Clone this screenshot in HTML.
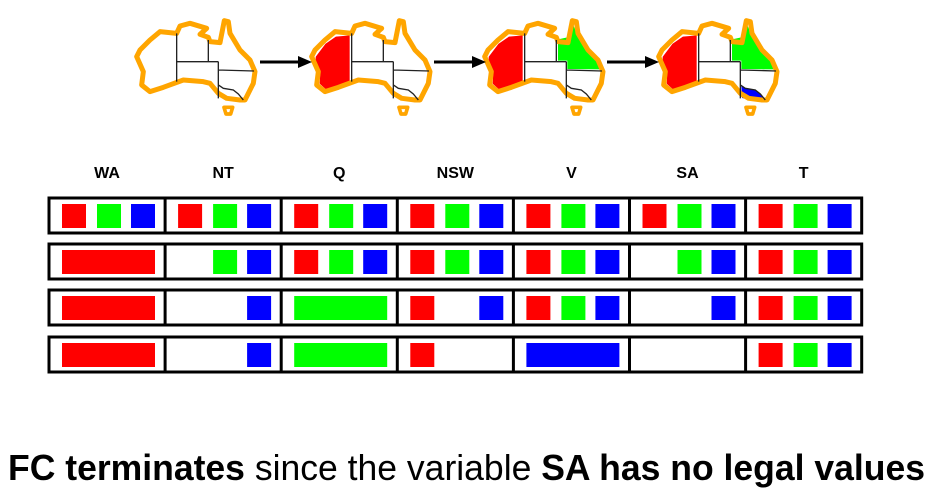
<!DOCTYPE html>
<html><head><meta charset="utf-8"><style>
html,body{margin:0;padding:0;background:#fff;width:936px;height:494px;overflow:hidden}
svg{display:block}
</style></head><body>
<svg id="fig" width="936" height="494" viewBox="0 0 936 494" xmlns="http://www.w3.org/2000/svg">
<defs>
<g id="oz">
<path d="M20,170 L30,150 L60,120 L90,95 L140,100 L150,78 L180,70 L230,85 L210,103 L235,112 L240,125 L270,128 L283,62 L295,65 L300,100 L330,150 L360,180 L375,215 L370,250 L345,300 L330,300 L290,295 L265,280 L240,250 L220,245 L160,240 L100,262 L60,275 L35,255 L40,215 Z" fill="none" stroke="#ffa500" stroke-width="15" stroke-linejoin="round"/>
<path d="M140,100 L140,245 M140,185 L265,185 M235,120 L235,185 M265,185 L265,295 M265,210 L372,213 M265,255 L280,265 L310,270 L325,282 L340,300" fill="none" stroke="#222" stroke-width="4"/>
<path d="M282,322 L308,322 L302,342 L288,342 Z" fill="none" stroke="#ffa500" stroke-width="11" stroke-linejoin="round"/>
</g>
<path id="wa" d="M30,170 L60,130 L92,108 L136,104 L136,244 L100,260 L62,270 L42,252 L44,212 L30,188 Z" fill="#f00" stroke="#fff" stroke-width="4"/>
<path id="q" d="M240,118 L268,112 L284,72 L298,102 L328,152 L358,182 L368,208 L268,207 L268,182 L240,182 Z" fill="#0f0"/>
</defs>
<g transform="translate(130,0) scale(0.3333)"><use href="#oz"/></g>
<g transform="translate(305,0) scale(0.3333)">
<use href="#wa"/><use href="#oz"/></g>
<g transform="translate(478,0) scale(0.3333)">
<use href="#wa"/><use href="#q"/><use href="#oz"/></g>
<g transform="translate(652,0) scale(0.3333)">
<use href="#wa"/><use href="#q"/>
<path d="M268,258 L280,265 L310,270 L325,282 L338,298 L300,300 L270,294 Z" fill="#00f"/>
<use href="#oz"/></g>
<g stroke="#000" stroke-width="3" fill="#000">
<line x1="260" y1="62" x2="300" y2="62"/><polygon points="298,56 312,62 298,68" stroke="none"/>
<line x1="434" y1="62" x2="474" y2="62"/><polygon points="472,56 486,62 472,68" stroke="none"/>
<line x1="607" y1="62" x2="647" y2="62"/><polygon points="645,56 659,62 645,68" stroke="none"/>
</g>
<g id="table"></g>
<text x="8" y="480" textLength="917" lengthAdjust="spacingAndGlyphs" font-family="'Liberation Sans',sans-serif" font-size="36" fill="#000"><tspan font-weight="bold">FC terminates</tspan> since the variable <tspan font-weight="bold">SA has no legal values</tspan></text>
</svg>
<script>
const variables = ["WA","NT","Q","NSW","V","SA","T"];
const row1 = ["RGB","RGB","RGB","RGB","RGB","RGB","RGB"];
const row2 = ["R*","GB","RGB","RGB","RGB","GB","RGB"];
const row3 = ["R*","B","G*","RB","RGB","B","RGB"];
const row4 = ["R*","B","G*","R","B*","","RGB"];
const rows = [row1,row2,row3,row4];
const colors = {R:"#f00",G:"#0f0",B:"#00f"};
const NS="http://www.w3.org/2000/svg";
const g=document.getElementById('table');
const x0=49, cw=116.1, rowY=[198,244,290,337], rh=35;
function mk(t,a){const e=document.createElementNS(NS,t);for(const k in a)e.setAttribute(k,a[k]);g.appendChild(e);return e;}
variables.forEach((v,i)=>{
  const t=mk('text',{x:x0+cw*i+cw/2,y:178,'text-anchor':'middle','font-family':"'Liberation Sans',sans-serif",'font-weight':'bold','font-size':16});
  
  
  t.textContent=v;
});
const offs={R:13,G:48,B:82};
rows.forEach((r,ri)=>{
  const y=rowY[ri];
  const box=mk('rect',{x:x0,y:y,width:cw*7,height:rh,fill:'none',stroke:'#000','stroke-width':3});
  
  
  for(let i=1;i<7;i++){const l=mk('line',{x1:x0+cw*i,x2:x0+cw*i,y1:y,y2:y+rh,stroke:'#000','stroke-width':3});
    
    }
  r.forEach((d,ci)=>{
    const cx=x0+cw*ci;
    if(d.endsWith('*')){
      const b=mk('rect',{x:cx+13,y:y+6,width:93,height:24,fill:colors[d[0]]});
      
      
    } else {
      for(const c of d){
        const s=mk('rect',{x:cx+offs[c],y:y+6,width:24,height:24,fill:colors[c]});
        
        
      }
    }
  });
});
</script>
</body></html>
